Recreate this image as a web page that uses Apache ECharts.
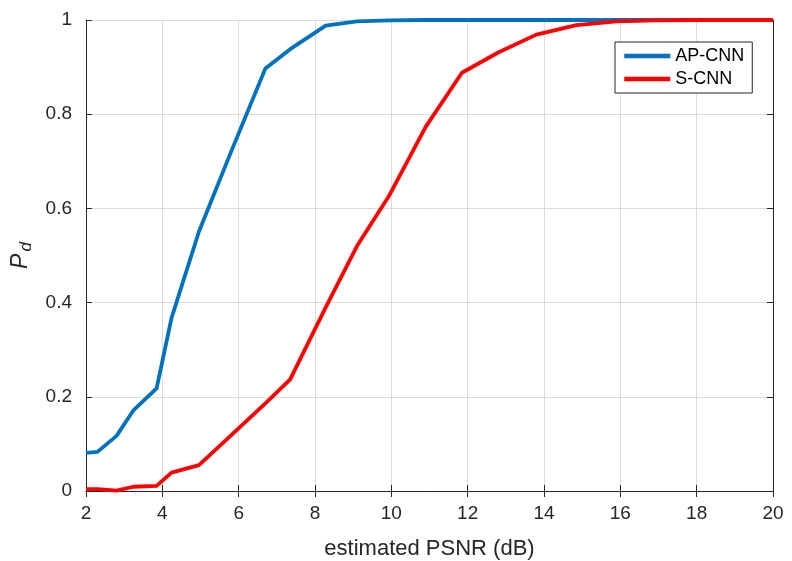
<!DOCTYPE html>
<html>
<head>
<meta charset="utf-8">
<script src="https://cdn.jsdelivr.net/npm/echarts@6/dist/echarts.min.js"></script>
<style>
  html, body { margin: 0; padding: 0; background: #fff; }
  #chart { width: 792px; height: 561px; }
</style>
</head>
<body>
<div id="chart"></div>
<script>
// estimated PSNR (dB) for each test point
const psnr = [2, 2.3, 2.8, 3.24, 3.85, 4.24, 4.96, 5.8, 6.7, 7.35, 8.28, 9.1, 9.95, 10.9, 11.85, 12.8, 13.8, 14.85, 15.9, 16.9, 17.9, 18.9, 20];
// detection probability
const apCnn = [0.081, 0.083, 0.117, 0.171, 0.218, 0.367, 0.551, 0.72, 0.897, 0.938, 0.988, 0.997, 0.999, 1, 1, 1, 1, 1, 1, 1, 1, 1, 1];
const sCnn = [0.004, 0.004, 0.001, 0.009, 0.011, 0.039, 0.055, 0.118, 0.186, 0.237, 0.39, 0.52, 0.628, 0.773, 0.888, 0.931, 0.969, 0.989, 0.997, 0.999, 1, 1, 1];
const seriesNames = ['AP-CNN', 'S-CNN'];

const FONT = 'Liberation Sans, Arial, Helvetica, sans-serif';
const AXIS_COLOR = '#262626';

const pairs = ys => psnr.map((x, i) => [x, ys[i]]);

const chart = echarts.init(document.getElementById('chart'));

const boxAxis = {
  axisLine: { show: true, lineStyle: { color: AXIS_COLOR, width: 1 } },
  axisTick: { show: true, inside: true, length: 6, lineStyle: { color: AXIS_COLOR } },
  axisLabel: { show: false },
  splitLine: { show: false }
};

chart.setOption({
  animation: false,
  backgroundColor: '#fff',
  grid: { left: 86, right: 19, top: 20, bottom: 70, outerBoundsMode: 'none', containLabel: false },
  legend: {
    orient: 'vertical',
    left: 615,
    top: 42,
    itemWidth: 46,
    itemHeight: 19,
    itemGap: 5,
    padding: [5, 8, 5, 7],
    borderColor: AXIS_COLOR,
    borderWidth: 1,
    backgroundColor: '#fff',
    itemStyle: { opacity: 0 },
    lineStyle: { width: 4.5 },
    textStyle: { fontFamily: FONT, fontSize: 18, color: '#000' },
    data: seriesNames
  },
  xAxis: [
    {
      type: 'value', min: 2, max: 20, interval: 2,
      name: 'estimated PSNR (dB)', nameLocation: 'middle', nameGap: 47,
      nameTextStyle: { fontFamily: FONT, fontSize: 22, color: AXIS_COLOR },
      axisLine: { show: true, onZero: false, lineStyle: { color: AXIS_COLOR, width: 1 } },
      axisTick: { show: true, inside: true, length: 6, lineStyle: { color: AXIS_COLOR } },
      axisLabel: { margin: 13, fontFamily: FONT, fontSize: 19, color: AXIS_COLOR },
      splitLine: { show: true, lineStyle: { color: '#dcdcdc', width: 1 } }
    },
    Object.assign({ type: 'value', position: 'top', min: 2, max: 20, interval: 2 }, boxAxis)
  ],
  yAxis: [
    {
      type: 'value', min: 0, max: 1, interval: 0.2,
      name: '{p|P}{d|d}', nameLocation: 'middle', nameGap: 47,
      nameTextStyle: {
        color: AXIS_COLOR,
        rich: {
          p: { fontFamily: FONT, fontSize: 23, fontStyle: 'italic', color: AXIS_COLOR },
          d: { fontFamily: FONT, fontSize: 17, fontStyle: 'italic', color: AXIS_COLOR, padding: [12, 0, 0, 2] }
        }
      },
      axisLine: { show: true, onZero: false, lineStyle: { color: AXIS_COLOR, width: 1 } },
      axisTick: { show: true, inside: true, length: 6, lineStyle: { color: AXIS_COLOR } },
      axisLabel: {
        margin: 14, fontFamily: FONT, fontSize: 19, color: AXIS_COLOR,
        formatter: v => String(Math.round(v * 10) / 10)
      },
      splitLine: { show: true, lineStyle: { color: '#dcdcdc', width: 1 } }
    },
    Object.assign({ type: 'value', position: 'right', min: 0, max: 1, interval: 0.2 }, boxAxis)
  ],
  series: [
    {
      name: seriesNames[0], type: 'line', data: pairs(apCnn),
      symbol: 'none', color: '#0072BD',
      lineStyle: { width: 3.8, color: '#0072BD' }
    },
    {
      name: seriesNames[1], type: 'line', data: pairs(sCnn),
      symbol: 'none', color: '#FF0000',
      lineStyle: { width: 3.8, color: '#FF0000' }
    }
  ]
});
</script>
</body>
</html>
